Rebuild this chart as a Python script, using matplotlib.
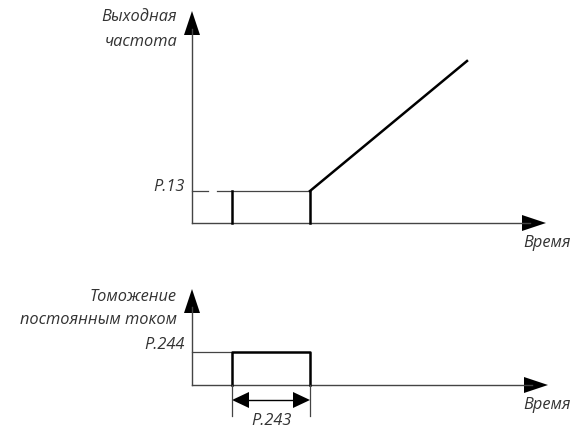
import matplotlib
matplotlib.use("Agg")
import matplotlib.pyplot as plt

# Diagram data (pixel-space coordinates of the schematic)
t_axis0 = 192            # time origin
t_start = 232            # DC braking start
t_end = 310              # DC braking end (P.243)
t_ramp_end = 467
freq_base = 224          # top chart baseline
freq_p13 = 192           # P.13 level
freq_ramp_top = 62
brake_base = 386         # bottom chart baseline
brake_p244 = 353         # P.244 level

labels_top = ["Выходная", "частота"]
labels_bot = ["Томожение", "постоянным током"]
p13_label = "P.13"
p244_label = "P.244"
p243_label = "P.243"
time_label = "Время"

fig = plt.figure(figsize=(5.74, 4.31), dpi=100)
ax = fig.add_axes([0, 0, 1, 1])
ax.set_xlim(0, 574)
ax.set_ylim(431, 0)
ax.axis("off")

axis_c = "#444444"
txt_c = "#333333"
font = dict(family="Open Sans", style="italic", fontweight="normal", fontsize=11.8, color=txt_c)

def arrow_head(x, y, direction, length=24, half=8):
    if direction == "up":
        pts = [(x - half, y + length), (x + half, y + length), (x, y)]
    elif direction == "right":
        pts = [(x - length, y - half), (x - length, y + half), (x, y)]
    else:  # left
        pts = [(x + length, y - half), (x + length, y + half), (x, y)]
    ax.add_patch(plt.Polygon(pts, closed=True, color="black", lw=0))

# ---- top chart ----
ax.plot([t_axis0, t_axis0], [freq_base, 30], color=axis_c, lw=1.0)
arrow_head(t_axis0, 12, "up")
ax.plot([t_axis0, 530], [freq_base, freq_base], color=axis_c, lw=1.0)
arrow_head(546, freq_base, "right")
ax.plot([t_axis0, 208], [freq_p13, freq_p13], color=axis_c, lw=0.9)
ax.plot([217, t_end], [freq_p13, freq_p13], color=axis_c, lw=0.9)
ax.plot([t_start, t_start], [freq_p13, freq_base], color="black", lw=1.8)
ax.plot([t_end, t_end], [freq_p13, freq_base], color="black", lw=1.8)
ax.plot([t_end, t_ramp_end], [freq_p13, freq_ramp_top], color="black", lw=1.8)

ax.text(177, 17, labels_top[0], ha="right", va="center", **font)
ax.text(177, 42, labels_top[1], ha="right", va="center", **font)
ax.text(185, 187, p13_label, ha="right", va="center", **font)
ax.text(571, 243, time_label, ha="right", va="center", **font)

# ---- bottom chart ----
ax.plot([t_axis0, t_axis0], [brake_base, 308], color=axis_c, lw=1.0)
arrow_head(t_axis0, 290, "up")
ax.plot([t_axis0, 532], [brake_base, brake_base], color=axis_c, lw=1.0)
arrow_head(548, brake_base, "right")
ax.plot([t_axis0, t_start], [brake_p244, brake_p244], color=axis_c, lw=0.9)
ax.plot([t_start, t_start, t_end, t_end], [brake_base, brake_p244, brake_p244, brake_base],
        color="black", lw=1.8)
ax.plot([t_start, t_start], [brake_base, 417], color=axis_c, lw=0.9)
ax.plot([t_end, t_end], [brake_base, 417], color=axis_c, lw=0.9)
ax.plot([t_start + 15, t_end - 15], [401, 401], color="black", lw=1.0)
arrow_head(t_start, 401, "left", length=17, half=8)
arrow_head(t_end, 401, "right", length=17, half=8)

ax.text(177, 297, labels_bot[0], ha="right", va="center", **font)
ax.text(177, 320, labels_bot[1], ha="right", va="center", **font)
ax.text(185, 345, p244_label, ha="right", va="center", **font)
ax.text(571, 405, time_label, ha="right", va="center", **font)
ax.text((t_start + t_end) / 2, 421, p243_label, ha="center", va="center", **font)

fig.savefig("out.png", dpi=100)
